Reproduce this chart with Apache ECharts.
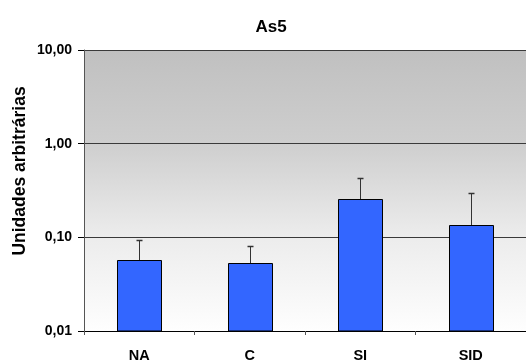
<!DOCTYPE html>
<html>
<head>
<meta charset="utf-8">
<script src="https://cdn.jsdelivr.net/npm/echarts@6/dist/echarts.min.js"></script>
<style>
  html, body { margin: 0; padding: 0; background: #fff; }
  #chart { width: 526px; height: 363px; }
</style>
</head>
<body>
<div id="chart"></div>
<script>
// Group labels and mean values (arbitrary units, log scale)
const categories = ['NA', 'C', 'SI', 'SID'];
const means = [0.057, 0.053, 0.258, 0.135];
// Upper end of each error bar
const errorTops = [0.093, 0.080, 0.430, 0.297];
const yTicks = [0.01, 0.1, 1, 10];

const FONT = 'Liberation Sans, Arial, sans-serif';
const yMin = yTicks[0];

const chart = echarts.init(document.getElementById('chart'), null, { renderer: 'canvas' });

chart.setOption({
  animation: false,
  backgroundColor: '#ffffff',
  title: {
    text: 'As5',
    left: 266,
    textAlign: 'center',
    top: 14,
    textStyle: { fontFamily: FONT, fontSize: 17, fontWeight: 'bold', color: '#000' }
  },
  graphic: [{
    type: 'text',
    x: 20,
    y: 171,
    rotation: Math.PI / 2,
    style: {
      text: 'Unidades arbitrárias',
      fontFamily: FONT, fontSize: 17.5, fontWeight: 'bold', fill: '#000',
      align: 'center', verticalAlign: 'middle'
    }
  }],
  grid: {
    left: 84, right: -1, top: 50, bottom: 32,
    show: true,
    borderWidth: 0,
    backgroundColor: new echarts.graphic.LinearGradient(0, 0, 0, 1, [
      { offset: 0, color: '#c0c0c0' },
      { offset: 0.33, color: '#cecece' },
      { offset: 0.66, color: '#ececec' },
      { offset: 1, color: '#fefefe' }
    ])
  },
  xAxis: {
    type: 'category',
    data: categories,
    axisLine: { show: true, lineStyle: { color: '#000', width: 1 } },
    axisTick: { show: true, length: 4, lineStyle: { color: '#555' } },
    axisLabel: { fontFamily: FONT, fontSize: 14.5, fontWeight: 'bold', color: '#000', margin: 17 }
  },
  yAxis: {
    type: 'log',
    logBase: 10,
    min: yMin,
    max: yTicks[yTicks.length - 1],
    axisLine: { show: true, lineStyle: { color: '#555', width: 1 } },
    axisTick: { show: true, length: 6, lineStyle: { color: '#000' } },
    axisLabel: {
      fontFamily: FONT, fontSize: 14, fontWeight: 'bold', color: '#000', margin: 12,
      formatter: v => v.toFixed(2).replace('.', ',')
    },
    splitLine: { show: true, lineStyle: { color: '#3a3a3a', width: 1 } }
  },
  series: [
    {
      // bars drawn from the axis floor (0,01) up to each mean
      type: 'custom',
      z: 2,
      data: means.map((m, i) => [i, m]),
      renderItem: (params, api) => {
        const top = api.coord([api.value(0), api.value(1)]);
        const base = api.coord([api.value(0), yMin]);
        const band = api.size([1, 0])[0];
        const w = Math.round(band * 0.4);
        const x = Math.round(top[0] - w / 2) + 0.5;
        const y = Math.round(top[1]) + 0.5;
        return {
          type: 'rect',
          shape: { x: x, y: y, width: w, height: base[1] - y },
          style: { fill: '#3366ff', stroke: '#000', lineWidth: 1 }
        };
      }
    },
    {
      // upper error bars
      type: 'custom',
      z: 3,
      data: means.map((m, i) => [i, m, errorTops[i]]),
      renderItem: (params, api) => {
        const base = api.coord([api.value(0), api.value(1)]);
        const top = api.coord([api.value(0), api.value(2)]);
        const x = Math.round(base[0]) + 0.5;
        const ty = Math.round(top[1]) + 0.5;
        return {
          type: 'group',
          children: [
            { type: 'line', shape: { x1: x, y1: Math.round(base[1]), x2: x, y2: ty },
              style: { stroke: '#333', lineWidth: 1 } },
            { type: 'line', shape: { x1: x - 3, y1: ty, x2: x + 3, y2: ty },
              style: { stroke: '#333', lineWidth: 1.5 } }
          ]
        };
      }
    }
  ]
});
</script>
</body>
</html>
